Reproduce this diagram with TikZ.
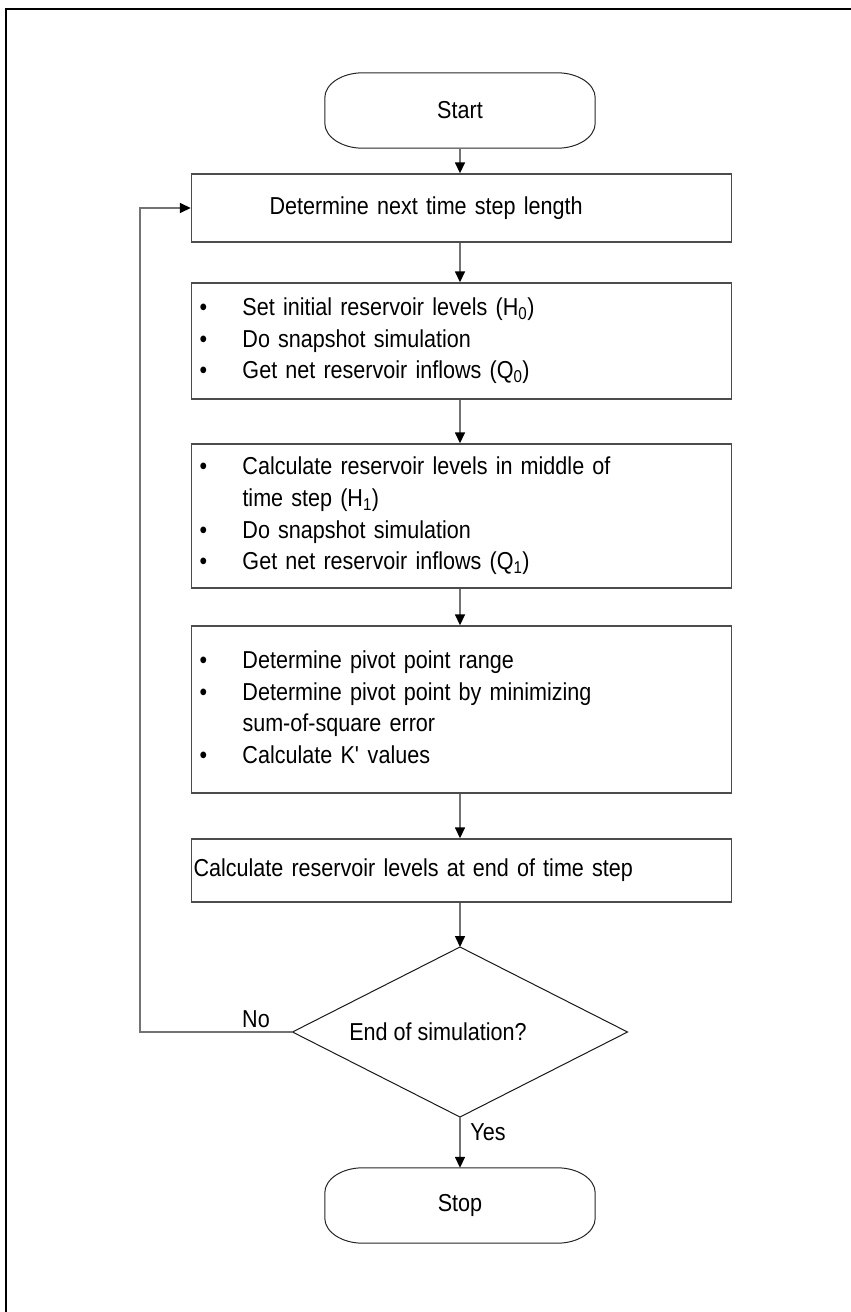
\documentclass[tikz,border=0pt]{standalone}
\usepackage{fontspec}
\setmainfont{Liberation Sans}[FakeStretch=0.88]
\usetikzlibrary{shapes.geometric,arrows.meta}
\newcommand\termoutline[1]{%
 \draw[termline] ([xshift=38pt]#1.north west) -- ([xshift=-38pt]#1.north east)
  arc[start angle=90,end angle=0,x radius=38pt,y radius=25pt]
  -- ([yshift=25pt]#1.south east)
  arc[start angle=0,end angle=-90,x radius=38pt,y radius=25pt]
  -- ([xshift=38pt]#1.south west)
  arc[start angle=270,end angle=180,x radius=38pt,y radius=25pt]
  -- ([yshift=-25pt]#1.north west)
  arc[start angle=180,end angle=90,x radius=38pt,y radius=25pt] -- cycle;}
\tikzset{
 base/.style={font=\fontsize{24.5}{31.6}\selectfont},
 procbox/.style={draw=black!70, line width=1.4pt, inner ysep=0pt, inner xsep=8pt, text width=524pt, align=left, base},
 term/.style={minimum width=270pt, minimum height=75pt, inner sep=0pt, base},
 termline/.style={draw=black!85, line width=1pt},
 decision/.style={diamond, draw=black!90, line width=1pt, minimum width=335pt, minimum height=170pt, inner sep=0pt, outer sep=0pt, aspect=1.97, base},
 conn/.style={draw=black!55, line width=1.5pt, -{Triangle[length=11pt,width=10pt,color=black]}},
 lbl/.style={base, inner sep=0pt},
 border/.style={draw=black, line width=2.2pt},
}
\begin{document}
\begin{tikzpicture}[x=1pt,y=1pt]
\useasboundingbox (0,0) rectangle (851,-1312);
\draw[border] (6,-1312) -- (6,-9) -- (851,-9);

\node[term] (start) at (460,-110.5) {Start};
\termoutline{start}

\node[procbox, minimum height=68pt] (b1) at (461.5,-208) {\hspace*{70pt}Determine next time step length};

\node[procbox, minimum height=116pt] (b2) at (461.5,-341) {%
\begin{tabular}{@{}p{43pt}@{}l@{}}
\textbullet & Set initial reservoir levels (H\textsubscript{0})\\
\textbullet & Do snapshot simulation\\
\textbullet & Get net reservoir inflows (Q\textsubscript{0})
\end{tabular}};

\node[procbox, minimum height=144pt] (b3) at (461.5,-516) {%
\begin{tabular}{@{}p{43pt}@{}l@{}}
\textbullet & Calculate reservoir levels in middle of\\
 & time step (H\textsubscript{1})\\
\textbullet & Do snapshot simulation\\
\textbullet & Get net reservoir inflows (Q\textsubscript{1})
\end{tabular}};

\node[procbox, minimum height=167pt] (b4) at (461.5,-709.5) {%
\begin{tabular}{@{}p{43pt}@{}l@{}}
\textbullet & Determine pivot point range\\
\textbullet & Determine pivot point by minimizing\\
 & sum-of-square error\\
\textbullet & Calculate K\textquotesingle{} values
\end{tabular}};

\node[procbox, minimum height=63pt, inner xsep=2pt, text width=536pt] (b5) at (461.5,-870.5) {Calculate reservoir levels at end of time step};

\node[decision] (dec) at (460,-1032) {End of simulation?\hspace*{44pt}};

\node[term] (stop) at (460,-1205.5) {Stop};
\termoutline{stop}

\coordinate (loopc) at (140,-1032);

\draw[conn] (start.south) -- (start.south |- b1.north);
\draw[conn] (b1.south -| start.south) -- (start.south |- b2.north);
\draw[conn] (b2.south -| start.south) -- (start.south |- b3.north);
\draw[conn] (b3.south -| start.south) -- (start.south |- b4.north);
\draw[conn] (b4.south -| start.south) -- (start.south |- b5.north);
\draw[conn] (b5.south -| dec.north) -- (dec.north);
\draw[conn] (dec.south) -- (stop.north);
\draw[conn] (dec.west) -- (loopc) |- (b1.west);

\node[lbl] (no) at (256,-1019) {No};
\node[lbl] (yes) at (488,-1132) {Yes};
\end{tikzpicture}
\end{document}
